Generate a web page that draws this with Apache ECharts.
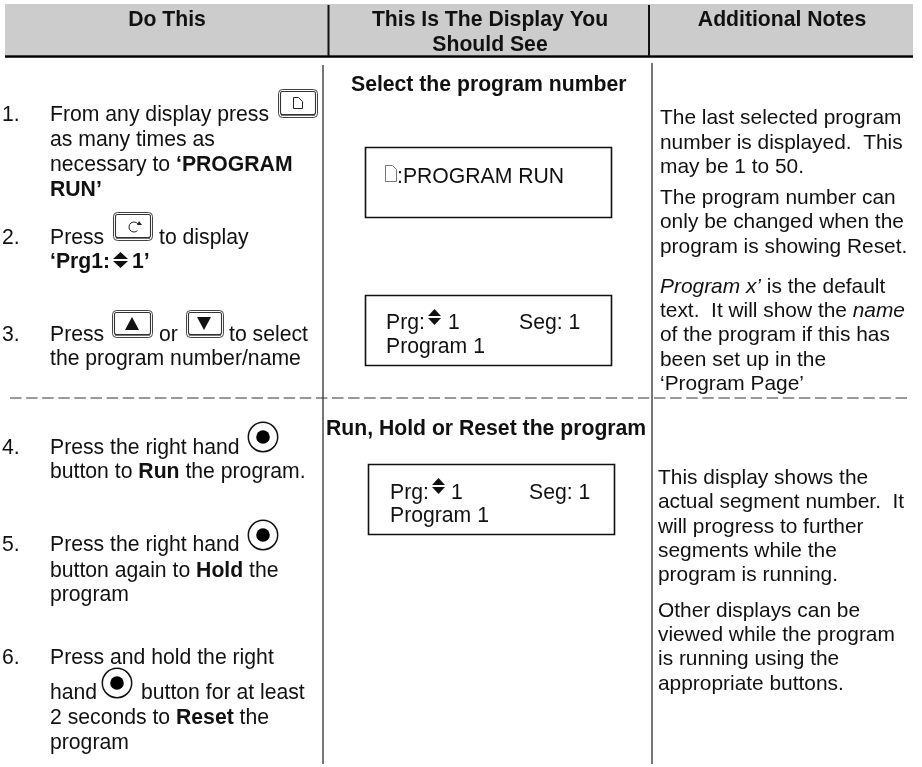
<!DOCTYPE html>
<html><head><meta charset="utf-8">
<style>html,body{margin:0;padding:0;background:#fff}#c{width:922px;height:767px}</style>
<script src="https://cdn.jsdelivr.net/npm/echarts@6/dist/echarts.min.js"></script>
</head><body><div id="c"></div>
<script>
// ---- text content ----
const headers = ['Do This', 'This Is The Display You', 'Should See', 'Additional Notes'];
const stepNumbers = ['1.', '2.', '3.', '4.', '5.', '6.'];
const stepLines = [
  'From any display press', 'as many times as', 'necessary to {b|‘PROGRAM}', '{b|RUN’}',
  'Press', 'to display', '{b|‘Prg1:}', '{b|1’}',
  'Press', 'or', 'to select', 'the program number/name',
  'Press the right hand', 'button to {b|Run} the program.',
  'Press the right hand', 'button again to {b|Hold} the', 'program',
  'Press and hold the right', 'hand', 'button for at least', '2 seconds to {b|Reset} the', 'program'
];
const displayTitles = ['Select the program number', 'Run, Hold or Reset the program'];
const displayLines = [':PROGRAM RUN', 'Prg:', '1', 'Seg: 1', 'Program 1', 'Prg:', '1', 'Seg: 1', 'Program 1'];
const noteLines = [
  'The last selected program', 'number is displayed.  This', 'may be 1 to 50.',
  'The program number can', 'only be changed when the', 'program is showing Reset.',
  '{i|Program x’} is the default', 'text.  It will show the {i|name}', 'of the program if this has', 'been set up in the', '‘Program Page’',
  'This display shows the', 'actual segment number.  It', 'will progress to further', 'segments while the', 'program is running.',
  'Other displays can be', 'viewed while the program', 'is running using the', 'appropriate buttons.'
];

// ---- layout ----
const FS = 21.2, NOTE_FS = 20.9, FONT = '"Liberation Sans", Arial, sans-serif', INK = '#111';
const g = [];
function richFor(fs){ return {b:{fontWeight:'bold',fontSize:fs,fontFamily:FONT,color:INK},
              i:{fontStyle:'italic',fontSize:fs,fontFamily:FONT,color:INK}}; }
function T(s, x, base, o){ o=o||{}; const fs=o.fs||FS;
  g.push({type:'text', x:x, y:base-fs*0.25, z:5, style:{text:s, fontFamily:FONT, fontSize:fs,
    fontWeight:o.bold?'bold':'normal', fill:INK, align:o.align||'left', verticalAlign:'middle', rich:richFor(fs)}});
}
function R(x,y,w,h,o){ g.push({type:'rect',z:o.z||2,shape:{x,y,width:w,height:h,r:o.r||0},style:{fill:o.fill||'none',stroke:o.stroke||null,lineWidth:o.lw||0}}); }
function L(x1,y1,x2,y2,c,w,d){ g.push({type:'line',z:3,shape:{x1,y1,x2,y2},style:{stroke:c,lineWidth:w,lineDash:d||null}}); }
function P(pts,o){ g.push({type:'polygon',z:4,shape:{points:pts},style:{fill:o.fill||'none',stroke:o.stroke||null,lineWidth:o.lw||0}}); }
function button(x,y,w,h){
  R(x+.5,y+.5,w,h,{r:4,stroke:'#444',lw:1,z:4});
  R(x+2.5,y+2.5,w-4,h-5,{r:2,stroke:'#333',lw:1.1,z:4});
  L(x+3,y+h-1.5,x+w-2,y+h-1.5,'#777',1);
}
function updown(x,y,w,h){ const m=y+h/2;
  P([[x,m-1],[x+w,m-1],[x+w/2,y]],{fill:'#111'});
  P([[x,m+1],[x+w,m+1],[x+w/2,y+h]],{fill:'#111'});
}
function pageIcon(x,y,w,h,c,lw){
  P([[x,y],[x+w-4,y],[x+w,y+4],[x+w,y+h],[x,y+h]],{stroke:c,lw:lw,fill:'#fff'});
}
function knob(cx,cy){
  g.push({type:'circle',z:4,shape:{cx,cy,r:14.7},style:{fill:'#fff',stroke:'#111',lineWidth:1.5}});
  g.push({type:'circle',z:5,shape:{cx,cy,r:6.8},style:{fill:'#000'}});
}

// header band
R(5,4,908,51,{fill:'#cccccc',z:1});
L(5,56.5,913,56.5,'#000',2.6);
L(328.5,5,328.5,56,'#111',2);
L(649,5,649,56,'#111',2);
// body rules
L(323,65,323,764,'#555',1.6);
L(652,63,652,764,'#555',1.6);
L(10,398,908,398,'#333',1,[11.5,4.6]);

// headers
T(headers[0],167,25,{bold:1,align:'center'});
T(headers[1],490,25,{bold:1,align:'center'});
T(headers[2],490,50,{bold:1,align:'center'});
T(headers[3],782,25,{bold:1,align:'center'});

// step numbers
[120,243,340,453,550,663].forEach((b,i)=>T(stepNumbers[i],2,b));
// step lines: [x, baseline]
const stepPos = [[50,120],[50,145],[50,170],[50,195],
  [50,243],[159,243],[50,267],[132,267],
  [50,340],[159,340],[229,340],[50,364],
  [50,453],[50,477],
  [50,550],[50,576],[50,600],
  [50,663],[50,698],[141,698],[50,723],[50,748]];
stepLines.forEach((s,i)=>T(s,stepPos[i][0],stepPos[i][1],{}));
// titles
T(displayTitles[0],351,90,{bold:1});
T(displayTitles[1],326,434,{bold:1});
// display boxes
R(365.5,147.5,246,70,{stroke:'#111',lw:1.6});
R(365.5,295.5,246,70,{stroke:'#111',lw:1.6});
R(368.5,464.5,246,70,{stroke:'#111',lw:1.6});
const dispPos = [[397,182],[386,328],[448,328],[519,328],[386,352],[390,498],[451,498],[529,498],[390,521]];
displayLines.forEach((s,i)=>T(s,dispPos[i][0],dispPos[i][1]));
// notes
const notePos = [123,148,172,203,227,252,292,316,340,365,389,483,507,532,556,580,616,640,664,689];
noteLines.forEach((s,i)=>T(s,i>=11?658:660,notePos[i],{fs:NOTE_FS}));

// icons
button(278,89,39,28); pageIcon(293.5,97.5,9,11,'#222',1);
button(113,212,39,28);
g.push({type:'arc',z:4,shape:{cx:134,cy:227,r:5,startAngle:-0.6,endAngle:-Math.PI*1.75,clockwise:false},style:{stroke:'#222',lineWidth:1,fill:'none'}});
P([[137,225],[142,225],[139,221]],{fill:'#222'});
updown(113,252,15,16);
button(112,310,40,27); P([[125,330],[139,330],[132,317]],{fill:'#111'});
button(186,310,37,27); P([[197,317],[211,317],[204,330]],{fill:'#111'});
knob(263,437); knob(263,535); knob(117,683);
pageIcon(385.5,165.5,11,16,'#777',1);
updown(428,309,13,16);
updown(432,478,13,16);

const chart = echarts.init(document.getElementById('c'),null,{renderer:'canvas'});
chart.setOption({animation:false,backgroundColor:'#fff',graphic:{elements:g}});
</script></body></html>
